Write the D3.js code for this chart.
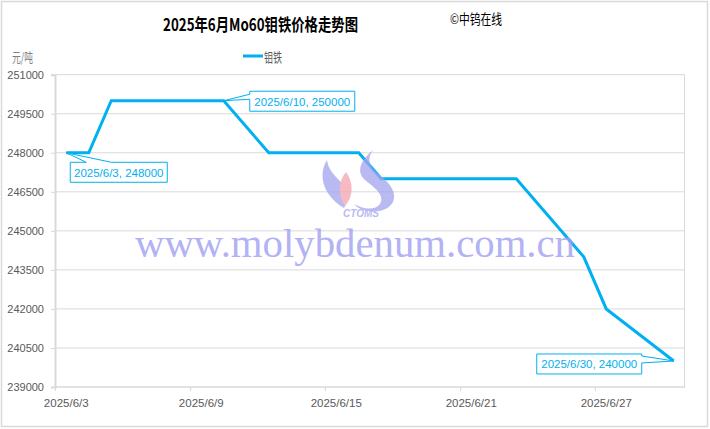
<!DOCTYPE html>
<html><head><meta charset="utf-8">
<script src="https://cdn.jsdelivr.net/npm/d3@7"></script>
<style>body{margin:0;background:#fff}svg{display:block}</style>
</head><body><svg id="c" width="710" height="429"></svg>
<script>
const dates = ["2025-06-03","2025-06-04","2025-06-05","2025-06-10","2025-06-12","2025-06-16","2025-06-17","2025-06-23","2025-06-26","2025-06-27","2025-06-30"];
const values = [248000,248000,250000,250000,248000,248000,247000,247000,244000,242000,240000];
const yTicks = [239000,240500,242000,243500,245000,246500,248000,249500,251000];
const xTickDates = ["2025-06-03","2025-06-09","2025-06-15","2025-06-21","2025-06-27"];
const callouts = [
  {date:"2025-06-03", value:248000, label:"2025/6/3, 248000"},
  {date:"2025-06-10", value:250000, label:"2025/6/10, 250000"},
  {date:"2025-06-30", value:240000, label:"2025/6/30, 240000"}
];
const seriesName = "钼铁";
const title = "2025年6月Mo60钼铁价格走势图";

const parse = d3.timeParse("%Y-%m-%d");
const svg = d3.select("#c");
const blue = "#00b0f0";
const font = "'Liberation Sans', 'Noto Sans CJK SC', sans-serif";
const cjk = "'Noto Sans CJK SC',sans-serif";

// outer border
svg.append("rect").attr("x",1.5).attr("y",1.5).attr("width",706).attr("height",425)
  .attr("fill","#fff").attr("stroke","#d9d9d9").attr("stroke-width",1.5);

const x = d3.scaleTime().domain([parse("2025-06-03"), parse("2025-07-01")]).range([55,685]);
const y = d3.scaleLinear().domain([239000,251000]).range([387,74.7]);
const mid = d => d3.timeHour.offset(parse(d),12);

// gridlines
svg.append("g").selectAll("line").data(yTicks.slice(1)).join("line")
  .attr("x1",55).attr("x2",685).attr("y1",d=>y(d)).attr("y2",d=>y(d))
  .attr("stroke","#d9d9d9").attr("stroke-width",1);
svg.append("line").attr("x1",684.5).attr("x2",684.5).attr("y1",y(251000)).attr("y2",y(239000))
  .attr("stroke","#d9d9d9").attr("stroke-width",1);

// y axis
const yAxis = d3.axisLeft(y).tickValues(yTicks).tickSize(4).tickPadding(7).tickFormat(d3.format("d"));
const gy = svg.append("g").attr("transform","translate(55,0)").call(yAxis);
gy.select(".domain").attr("stroke","#d9d9d9").attr("stroke-width",2);
gy.selectAll(".tick line").attr("stroke","#d9d9d9");
gy.selectAll("text").attr("fill","#595959").style("font-family",font).style("font-size","11px");

// x axis
const xAxis = d3.axisBottom(x).tickValues(xTickDates.map(parse)).tickSize(4).tickFormat("");
const gx = svg.append("g").attr("transform","translate(0,387)").call(xAxis);
gx.select(".domain").attr("stroke","#d9d9d9").attr("stroke-width",1.5).attr("d","M55,0H685");
gx.selectAll(".tick line").attr("stroke","#d9d9d9");
svg.append("g").selectAll("text").data(xTickDates).join("text")
  .attr("x",d=>x(mid(d))).attr("y",407).attr("text-anchor","middle")
  .attr("fill","#595959").style("font-family",font).style("font-size","11.5px")
  .text(d=>{const t=parse(d);return `${t.getFullYear()}/${t.getMonth()+1}/${t.getDate()}`;});

// line
const pts = dates.map((d,i)=>({t:mid(d), v:values[i]}));
svg.append("path").datum(pts)
  .attr("d", d3.line().x(d=>x(d.t)).y(d=>y(d.v)))
  .attr("fill","none").attr("stroke",blue).attr("stroke-width",3).attr("stroke-linejoin","miter");

// watermark logo (semi-transparent, on top)
const logo = svg.append("g").attr("opacity",0.75);
logo.append("path").attr("d","M327,160 C317,176 324,196 344,208 C349,200 347,190 341,182 C334,175 328,169 327,160 Z").attr("fill","#a4a4f0");
logo.append("path").attr("d","M346,172 C338,181 338,196 345,206 C352,198 355,185 346,172 Z").attr("fill","#f4a4ac");
logo.append("path").attr("d","M373,150 C360,161 356,172 365,180 C375,188 385,195 380,204 C375,211 362,209 354,204 C362,214 386,215 393,202 C398,190 386,180 376,172 C369,166 367,158 373,150 Z").attr("fill","#a4a4f0");
logo.append("text").attr("x",361).attr("y",217).attr("text-anchor","middle")
  .attr("fill","#a4a4f0").style("font-family",font).style("font-size","10px")
  .style("font-weight","bold").style("font-style","italic").text("CTOMS");

svg.append("text").attr("x",355).attr("y",257).attr("text-anchor","middle")
  .attr("fill","#a0a0f2").attr("opacity",0.8)
  .style("font-family","'Liberation Serif','DejaVu Serif',serif").style("font-size","40px")
  .attr("textLength",440).attr("lengthAdjust","spacingAndGlyphs")
  .text("www.molybdenum.com.cn");

// callouts
const boxes = [
  {w:97,h:20,dx:4,dy:9.5,side:"top"},
  {w:105,h:20,dx:26,dy:-9.5,side:"left"},
  {w:105,h:20,dx:-137,dy:-7,side:"right"}
];
callouts.forEach((c,i)=>{
  const px = x(mid(c.date)), py = y(c.value);
  const b = boxes[i];
  const bx = px + b.dx, by = py + b.dy;
  let path;
  if (b.side==="top") {
    path = `M${bx},${by} H${bx+16} L${px},${py} L${bx+41},${by} H${bx+b.w} V${by+b.h} H${bx} Z`;
  } else if (b.side==="left") {
    path = `M${bx},${by} H${bx+b.w} V${by+b.h} H${bx} V${by+8} L${px},${py} L${bx},${by+3} Z`;
  } else {
    path = `M${bx},${by} H${bx+b.w} V${by+2} L${px},${py} L${bx+b.w},${by+9} V${by+b.h} H${bx} Z`;
  }
  svg.append("path").attr("d",path).attr("fill","#fff").attr("stroke",blue).attr("stroke-width",1);
  svg.append("text").attr("x",bx+b.w/2).attr("y",by+14.5).attr("text-anchor","middle")
    .attr("fill",blue).style("font-family",font).style("font-size","11.5px").text(c.label);
});

// title etc.
svg.append("text").attr("x",163).attr("y",31)
  .style("font-family",cjk).style("font-size","17px").style("font-weight","bold")
  .attr("textLength",195).attr("lengthAdjust","spacingAndGlyphs")
  .attr("fill","#000").text(title);
svg.append("text").attr("x",450).attr("y",24)
  .style("font-family",cjk).style("font-size","14px")
  .attr("textLength",52).attr("lengthAdjust","spacingAndGlyphs")
  .attr("fill","#000").text("©中钨在线");
svg.append("text").attr("x",12).attr("y",62)
  .style("font-family",cjk).style("font-size","13px")
  .attr("textLength",21).attr("lengthAdjust","spacingAndGlyphs")
  .attr("fill","#7f7f7f").text("元/吨");
svg.append("line").attr("x1",243).attr("x2",263).attr("y1",56).attr("y2",56).attr("stroke",blue).attr("stroke-width",3);
svg.append("text").attr("x",264).attr("y",62)
  .style("font-family",cjk).style("font-size","13px")
  .attr("textLength",18).attr("lengthAdjust","spacingAndGlyphs")
  .attr("fill","#595959").text(seriesName);
</script></body></html>
